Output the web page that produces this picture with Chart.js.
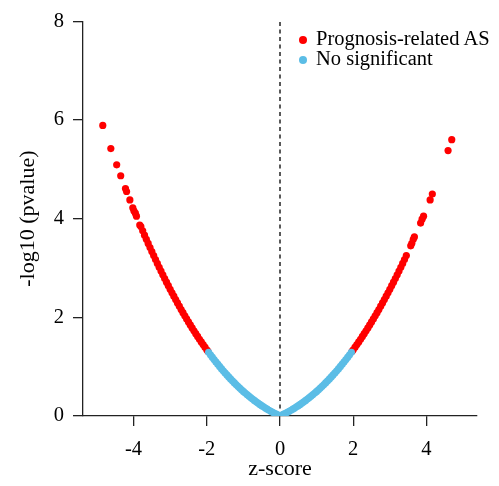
<!DOCTYPE html>
<html>
<head>
<meta charset="utf-8">
<script src="https://cdn.jsdelivr.net/npm/chart.js@4"></script>
<style>
  html, body { margin: 0; padding: 0; background: #fff; }
  #wrap { position: relative; width: 499px; height: 486px; }
  #legend { position: absolute; left: 299px; top: 29px; font: 20.5px 'Liberation Serif', 'Times New Roman', serif; line-height: 19.5px; color: #000; }
  #legend .dot { display: inline-block; width: 8px; height: 8px; border-radius: 50%; margin-right: 9px; vertical-align: 1px; }
</style>
</head>
<body>
<div id="wrap">
  <canvas id="c" width="499" height="486"></canvas>
  <div id="legend">
    <div><span class="dot" style="background:#ff0000"></span>Prognosis-related AS</div>
    <div><span class="dot" style="background:#5bbde6"></span>No significant</div>
  </div>
</div>
<script>
// z-score / -log10(p)
const sigZ = [
  -4.84, -4.62, -4.46, -4.35, -4.22, -4.19, -4.10, -4.02, -3.99, -3.95, -3.92, -3.83,
  -3.80, -3.75, -3.70, -3.65, -3.60, -3.55, -3.50, -3.45, -3.40, -3.35, -3.30, -3.25,
  -3.20, -3.15, -3.10, -3.05, -3.00, -2.95, -2.90, -2.85, -2.80, -2.75, -2.70, -2.65,
  -2.60, -2.55, -2.50, -2.45, -2.40, -2.35, -2.30, -2.25, -2.20, -2.15, -2.10, -2.05,
  -2.00, -1.97,
  1.97, 2.00, 2.05, 2.10, 2.15, 2.20, 2.25, 2.30, 2.35, 2.40, 2.45, 2.50, 2.55, 2.60,
  2.65, 2.70, 2.75, 2.80, 2.85, 2.90, 2.95, 3.00, 3.05, 3.10, 3.15, 3.20, 3.25, 3.30,
  3.35, 3.40, 3.45, 3.57, 3.60, 3.64, 3.67, 3.84, 3.88, 3.92, 4.10, 4.16, 4.59, 4.69
];
const sigLogP = [
  5.89, 5.42, 5.09, 4.87, 4.61, 4.55, 4.38, 4.22, 4.16, 4.11, 4.05, 3.87,
  3.840, 3.753, 3.666, 3.582, 3.498, 3.415, 3.332, 3.251, 3.171, 3.093, 3.015, 2.938,
  2.862, 2.787, 2.713, 2.641, 2.569, 2.498, 2.428, 2.359, 2.292, 2.225, 2.159, 2.094,
  2.031, 1.968, 1.906, 1.845, 1.785, 1.726, 1.669, 1.612, 1.556, 1.501, 1.447, 1.394,
  1.342, 1.310,
  1.310, 1.342, 1.394, 1.447, 1.501, 1.556, 1.612, 1.669, 1.726, 1.785, 1.845, 1.906, 1.968, 2.031,
  2.094, 2.159, 2.225, 2.292, 2.359, 2.428, 2.498, 2.569, 2.641, 2.713, 2.787, 2.862, 2.938, 3.015,
  3.093, 3.171, 3.251, 3.45, 3.50, 3.58, 3.63, 3.91, 3.99, 4.05, 4.38, 4.50, 5.38, 5.60
];
const nsZ = [
  -1.95, -1.90, -1.85, -1.80, -1.75, -1.70, -1.65, -1.60, -1.55, -1.50, -1.45, -1.40,
  -1.35, -1.30, -1.25, -1.20, -1.15, -1.10, -1.05, -1.00, -0.95, -0.90, -0.85, -0.80,
  -0.75, -0.70, -0.65, -0.60, -0.55, -0.50, -0.45, -0.40, -0.35, -0.30, -0.25, -0.20,
  -0.15, -0.10, -0.05, 0.00, 0.05, 0.10, 0.15, 0.20, 0.25, 0.30, 0.35, 0.40, 0.45,
  0.50, 0.55, 0.60, 0.65, 0.70, 0.75, 0.80, 0.85, 0.90, 0.95, 1.00, 1.05, 1.10, 1.15,
  1.20, 1.25, 1.30, 1.35, 1.40, 1.45, 1.50, 1.55, 1.60, 1.65, 1.70, 1.75, 1.80, 1.85,
  1.90, 1.95
];
const nsLogP = [
  1.291, 1.241, 1.192, 1.143, 1.096, 1.050, 1.005, 0.960, 0.917, 0.874, 0.833, 0.792,
  0.752, 0.713, 0.675, 0.638, 0.602, 0.567, 0.532, 0.499, 0.466, 0.434, 0.403, 0.373,
  0.344, 0.315, 0.288, 0.261, 0.235, 0.210, 0.185, 0.162, 0.139, 0.117, 0.096, 0.075,
  0.055, 0.036, 0.018, 0.000, 0.018, 0.036, 0.055, 0.075, 0.096, 0.117, 0.139, 0.162, 0.185,
  0.210, 0.235, 0.261, 0.288, 0.315, 0.344, 0.373, 0.403, 0.434, 0.466, 0.499, 0.532, 0.567, 0.602,
  0.638, 0.675, 0.713, 0.752, 0.792, 0.833, 0.874, 0.917, 0.960, 1.005, 1.050, 1.096, 1.143, 1.192,
  1.241, 1.291
];
const xTicks = [-4, -2, 0, 2, 4];
const yTicks = [0, 2, 4, 6, 8];

const serif = "'Liberation Serif', 'Times New Roman', serif";
const toPts = (xs, ys) => xs.map((x, i) => ({ x, y: ys[i] }));

new Chart(document.getElementById('c'), {
  type: 'scatter',
  data: {
    datasets: [
      {
        label: 'No significant',
        data: toPts(nsZ, nsLogP),
        backgroundColor: '#5bbde6',
        borderWidth: 0,
        pointRadius: 3.6
      },
      {
        label: 'Prognosis-related AS',
        data: toPts(sigZ, sigLogP),
        backgroundColor: '#ff0000',
        borderWidth: 0,
        pointRadius: 3.6
      },
      {
        type: 'line',
        label: 'zero',
        data: [{ x: 0, y: 0 }, { x: 0, y: 8 }],
        borderColor: '#222',
        borderWidth: 1.5,
        borderDash: [4, 3.5],
        pointRadius: 0
      }
    ]
  },
  options: {
    responsive: false,
    animation: false,
    devicePixelRatio: 1,
    layout: { padding: { left: 0, right: 22, top: 20, bottom: 0 } },
    plugins: { legend: { display: false }, tooltip: { enabled: false } },
    scales: {
      x: {
        type: 'linear',
        min: -5.38,
        max: 5.38,
        afterBuildTicks: (s) => { s.ticks = xTicks.map(v => ({ value: v })); },
        afterFit: (s) => { s.height = 70; },
        grid: { drawOnChartArea: false, drawTicks: true, tickLength: 10, color: '#222', lineWidth: 1.3 },
        border: { display: true, color: '#222', width: 1.3 },
        ticks: { color: '#000', font: { family: serif, size: 20.5 }, padding: 11, maxRotation: 0 },
        title: { display: true, text: 'z-score', color: '#000', font: { family: serif, size: 22, lineHeight: 1.2 }, padding: { top: 0, bottom: 4 } }
      },
      y: {
        type: 'linear',
        min: 0,
        max: 8,
        afterBuildTicks: (s) => { s.ticks = yTicks.map(v => ({ value: v })); },
        afterFit: (s) => { s.width = 83; },
        grid: { drawOnChartArea: false, drawTicks: true, tickLength: 10, color: '#222', lineWidth: 1.3 },
        border: { display: true, color: '#222', width: 1.3 },
        ticks: { color: '#000', font: { family: serif, size: 20.5 }, padding: 9 },
        title: { display: true, text: '-log10 (pvalue)', color: '#000', font: { family: serif, size: 22, lineHeight: 1.2 }, padding: { top: 15, bottom: 0 } }
      }
    }
  }
});
</script>
</body>
</html>
